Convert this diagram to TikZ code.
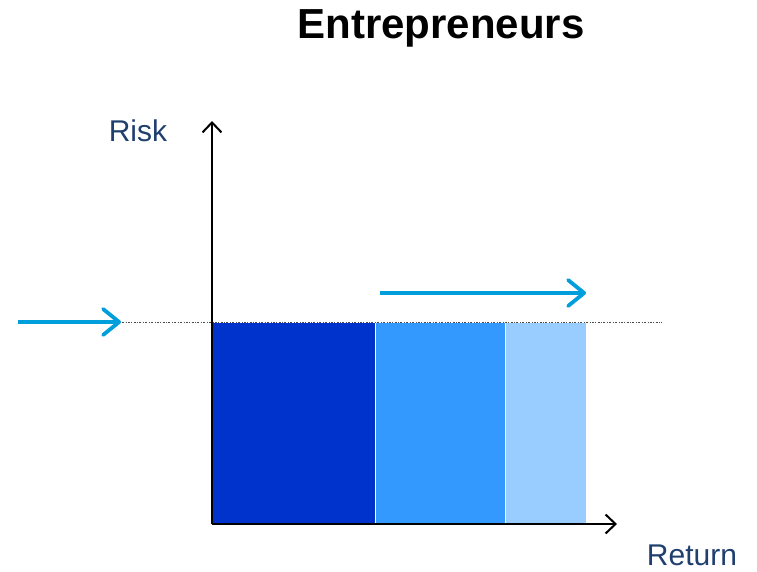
\documentclass[tikz,border=0pt]{standalone}
\usepackage{fontspec}
\setmainfont{Liberation Sans}
\usetikzlibrary{arrows.meta}
\definecolor{barA}{RGB}{0,51,204}
\definecolor{barB}{RGB}{51,153,255}
\definecolor{barC}{RGB}{153,204,255}
\definecolor{arrowblue}{RGB}{0,158,219}
\definecolor{labelblue}{RGB}{31,63,111}
\begin{document}
\begin{tikzpicture}[x=1pt,y=-1pt,
  axis/.style={line width=2pt,-{Straight Barb[length=10pt,width=19pt,line width=2pt]}},
  bluearrow/.style={arrowblue,line width=3.8pt,-{Straight Barb[length=16pt,width=26pt,line width=3.8pt,round]}},
  bar/.style={draw=white,line width=0.8pt},
  lbl/.style={text=labelblue,font=\fontsize{30}{34}\selectfont,inner sep=0pt}]
\useasboundingbox (0,0) rectangle (757,572);
\node[font=\bfseries\fontsize{42}{46}\selectfont,inner sep=0pt] (title) at (441,28) {Entrepreneurs};
% bars
\path[bar,fill=barA] (212,322) rectangle (375,524);
\path[bar,fill=barB] (375,322) rectangle (505,524);
\path[bar,fill=barC] (505,322) rectangle (586,524);
% dotted level line
\coordinate (dl) at (122,322);
\coordinate (dr) at (662,322);
\draw[gray!60!black,line width=1pt,dash pattern=on 2pt off 1.5pt on 0.8pt off 1.5pt] (dl) -- (dr);
% axes
\coordinate (o) at (212,524);
\coordinate (ytip) at (212,121);
\coordinate (xtip) at (617,524);
\draw[axis] (o) -- (ytip);
\draw[axis] (o) -- (xtip);
\node[lbl] (risk) at (138,131) {Risk};
\node[lbl] (ret) at (692,555) {Return};
% blue arrows
\coordinate (la) at (18,322);
\coordinate (lb) at (121,322);
\draw[bluearrow] (la) -- (lb);
\coordinate (ta) at (380,293);
\coordinate (tb) at (586,293);
\draw[bluearrow] (ta) -- (tb);
\end{tikzpicture}
\end{document}
